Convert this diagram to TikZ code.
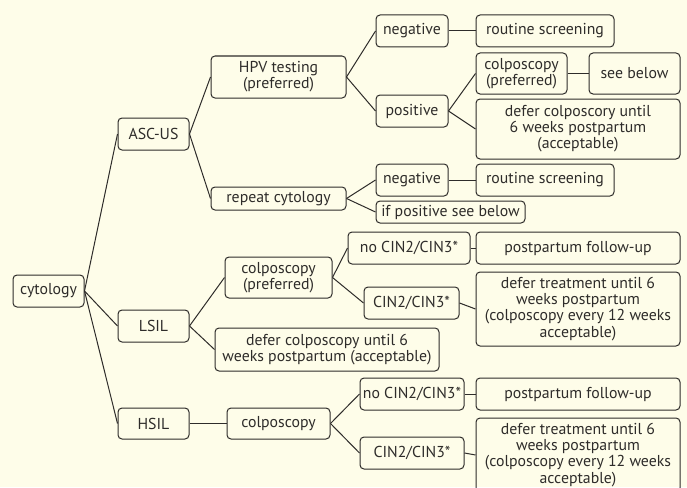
\documentclass[tikz,border=0pt]{standalone}
\usepackage{fontspec}
\setmainfont{PT Sans}
\usepackage{xcolor}
\usepackage{tikz}
\usetikzlibrary{positioning}

\definecolor{bgcream}{HTML}{FEFDE9}
\definecolor{inkgrey}{HTML}{2E2C2A}

\begin{document}
\begin{tikzpicture}[
  x=1pt, y=-1pt,
  box/.style={draw=inkgrey, rounded corners=4pt, align=center, inner sep=1pt,
    line width=1pt, text=inkgrey, font=\fontsize{15.8}{16.1}\selectfont},
  link/.style={draw=inkgrey, line width=1pt}
]
\fill[bgcream] (0,0) rectangle (687,487);
\useasboundingbox (0,0) rectangle (687,487);

% first and second level
\node[box, minimum width=71pt, minimum height=32pt] (cyto) at (48.5,291) {cytology};
\node[box, minimum width=71pt, minimum height=32pt] (ascus) at (153.5,134) {ASC-US};
\node[box, minimum width=71pt, minimum height=32pt] (lsil) at (153.5,326) {LSIL};
\node[box, minimum width=71pt, minimum height=31pt] (hsil) at (153.5,423.5) {HSIL};

% ASC-US branch
\node[box, minimum width=135pt, minimum height=42pt] (hpv) at (278.5,77) {HPV testing\\(preferred)};
\node[box, minimum width=135pt, minimum height=23pt] (repcyto) at (278.5,198.5) {repeat cytology};
\node[box, minimum width=72pt, minimum height=32pt] (negA) at (412,31) {negative};
\node[box, minimum width=138pt, minimum height=32pt] (routA) at (545,31) {routine screening};
\node[box, minimum width=72pt, minimum height=32pt] (posA) at (412,111) {positive};
\node[box, minimum width=91pt, minimum height=41pt] (colpA) at (521.5,73.5) {colposcopy\\(preferred)};
\node[box, minimum width=91pt, minimum height=41pt] (seebelow) at (634.5,73.5) {see below};
\node[box, minimum width=204pt, minimum height=60pt] (deferA) at (578,129) {defer colposcory until\\6 weeks postpartum\\(acceptable)};
\node[box, minimum width=72pt, minimum height=32pt] (negB) at (412,180) {negative};
\node[box, minimum width=138pt, minimum height=32pt] (routB) at (545,180) {routine screening};
\node[box, minimum width=149pt, minimum height=22pt] (ifpos) at (450.5,212) {if positive see below};

% LSIL branch
\node[box, minimum width=107pt, minimum height=41pt] (colpL) at (278.5,277.5) {colposcopy\\(preferred)};
\node[box, minimum width=224pt, minimum height=43pt] (deferL) at (327,349.5) {defer colposcopy until 6\\weeks postpartum (acceptable)};
\node[box, minimum width=122pt, minimum height=32pt] (noL) at (409,248) {no CIN2/CIN3*};
\node[box, minimum width=204pt, minimum height=32pt] (followL) at (578,248) {postpartum follow-up};
\node[box, minimum width=95pt, minimum height=32pt] (cinL) at (411.5,303) {CIN2/CIN3*};
\node[box, minimum width=204pt, minimum height=74pt] (treatL) at (578,309) {defer treatment until 6\\weeks postpartum\\(colposcopy every 12 weeks\\acceptable)};

% HSIL branch
\node[box, minimum width=103pt, minimum height=31pt] (colpH) at (278.5,423.5) {colposcopy};
\node[box, minimum width=104pt, minimum height=32pt] (noH) at (412,394) {no CIN2/CIN3*};
\node[box, minimum width=204pt, minimum height=32pt] (followH) at (578,394) {postpartum follow-up};
\node[box, minimum width=104pt, minimum height=32pt] (cinH) at (412,453) {CIN2/CIN3*};
\node[box, minimum width=204pt, minimum height=74pt] (treatH) at (578,455) {defer treatment until 6\\weeks postpartum\\(colposcopy every 12 weeks\\acceptable)};

\draw[link] (cyto.east) -- (ascus.west);
\draw[link] (cyto.east) -- (lsil.west);
\draw[link] (cyto.east) -- (hsil.west);
\draw[link] (ascus.east) -- (hpv.west);
\draw[link] (ascus.east) -- (repcyto.west);
\draw[link] (hpv.east) -- (negA.west);
\draw[link] (hpv.east) -- (posA.west);
\draw[link] (negA.east) -- (routA.west);
\draw[link] (posA.east) -- (colpA.west);
\draw[link] (posA.east) -- (deferA.west);
\draw[link] (colpA.east) -- (seebelow.west);
\draw[link] (repcyto.east) -- (negB.west);
\draw[link] (repcyto.east) -- (ifpos.west);
\draw[link] (negB.east) -- (routB.west);
\draw[link] (lsil.east) -- (colpL.west);
\draw[link] (lsil.east) -- (deferL.west);
\draw[link] (colpL.east) -- (noL.west);
\draw[link] (colpL.east) -- (cinL.west);
\draw[link] (noL.east) -- (followL.west);
\draw[link] (cinL.east) -- (treatL.west);
\draw[link] (hsil.east) -- (colpH.west);
\draw[link] (colpH.east) -- (noH.west);
\draw[link] (colpH.east) -- (cinH.west);
\draw[link] (noH.east) -- (followH.west);
\draw[link] (cinH.east) -- (treatH.west);

\end{tikzpicture}
\end{document}
